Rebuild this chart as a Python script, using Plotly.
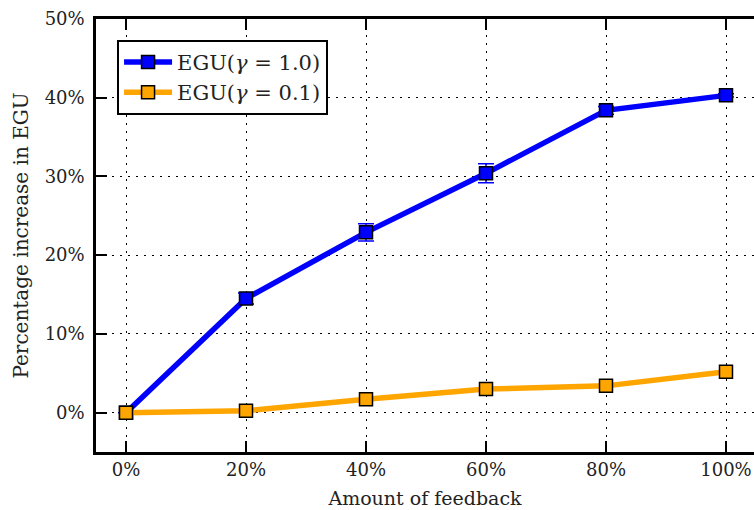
import plotly.graph_objects as go

feedback = [0, 20, 40, 60, 80, 100]
egu_g10 = [0.0, 14.5, 22.9, 30.4, 38.4, 40.3]
egu_g10_err = [0.0, 0.7, 1.1, 1.2, 0.5, 0.2]
egu_g01 = [0.0, 0.25, 1.7, 3.0, 3.4, 5.2]
x_ticks = [0, 20, 40, 60, 80, 100]
x_ticklabels = ["0%", "20%", "40%", "60%", "80%", "100%"]
y_ticks = [0, 10, 20, 30, 40, 50]
y_ticklabels = ["0%", "10%", "20%", "30%", "40%", "50%"]

FONT = "DejaVu Serif"
fs = 18

fig = go.Figure()
fig.add_trace(go.Scatter(
    x=feedback, y=egu_g10, mode="lines+markers",
    name="EGU(<i>γ</i> = 1.0)",
    line=dict(color="#0000ff", width=5.5),
    marker=dict(symbol="square", size=13, color="#0000ff",
                line=dict(color="black", width=1.5)),
    error_y=dict(type="data", array=egu_g10_err, visible=True,
                 color="#0000ff", thickness=1.5, width=8),
))
fig.add_trace(go.Scatter(
    x=feedback, y=egu_g01, mode="lines+markers",
    name="EGU(<i>γ</i> = 0.1)",
    line=dict(color="#ffa500", width=5.5),
    marker=dict(symbol="square", size=13, color="#ffa500",
                line=dict(color="black", width=1.5)),
))

axis_common = dict(
    showline=True, linecolor="black", linewidth=2.5,
    ticks="inside", ticklen=11, tickwidth=1.5, tickcolor="black",
    showgrid=True, gridcolor="black", gridwidth=1.3, griddash="2px,6px",
    zeroline=False, automargin=False,
    tickfont=dict(family=FONT, size=fs, color="#222222"),
)

fig.update_layout(
    width=754, height=510,
    margin=dict(l=96, r=0, t=19, b=58),
    paper_bgcolor="white", plot_bgcolor="white",
    font=dict(family=FONT, size=fs, color="#222222"),
    showlegend=True,
    legend=dict(
        x=0.032, y=0.952, xanchor="left", yanchor="top",
        bgcolor="white", bordercolor="black", borderwidth=2,
        font=dict(family=FONT, size=21, color="#222222"),
        tracegroupgap=0, itemwidth=48,
    ),
    xaxis=dict(
        range=[-5, 104.667], tickvals=x_ticks, ticktext=x_ticklabels,
        mirror="ticks",
        title=dict(text="Amount of feedback", standoff=13,
                   font=dict(family=FONT, size=19)),
        ticklabelstandoff=0,
        **axis_common,
    ),
    yaxis=dict(
        range=[-5, 50], tickvals=y_ticks, ticktext=y_ticklabels,
        title=dict(text="Percentage increase in EGU", standoff=11,
                   font=dict(family=FONT, size=20)),
        ticklabelstandoff=5,
        **axis_common,
    ),
    yaxis2=dict(
        overlaying="y", side="right", range=[-5, 50], tickvals=y_ticks,
        showticklabels=False, showline=False, showgrid=False, zeroline=False,
        ticks="inside", ticklen=11, tickwidth=1.5, tickcolor="black",
    ),
)

fig.write_html("out.html")
